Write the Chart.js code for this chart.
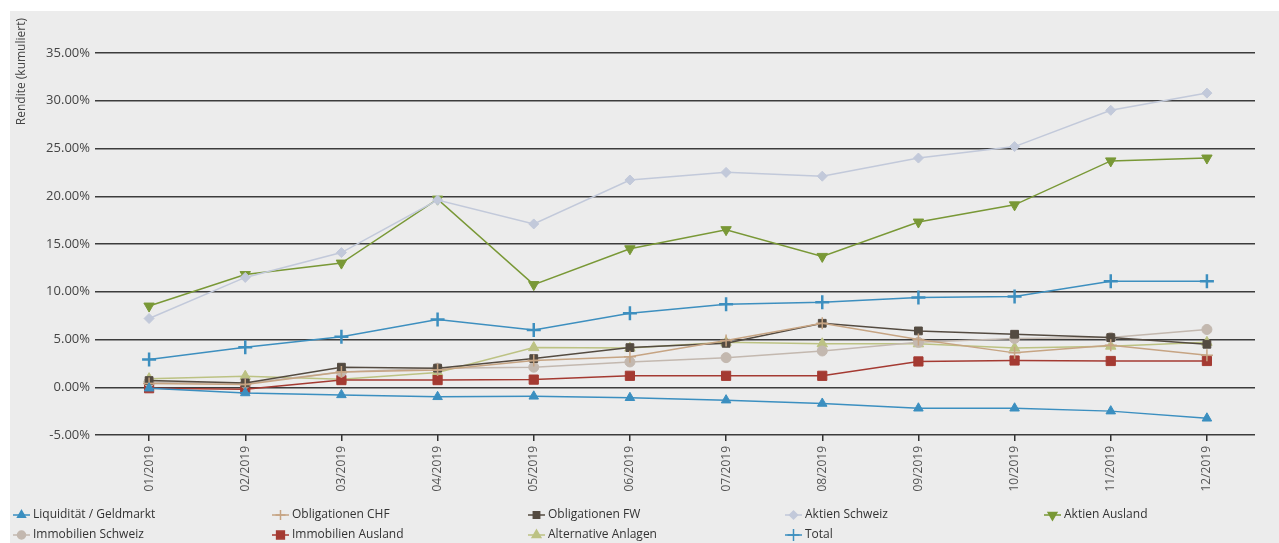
<!DOCTYPE html>
<html>
<head>
<meta charset="utf-8">
<style>
  html, body { margin: 0; padding: 0; background: #fff; }
  #chart { display: block; }
</style>
<script src="https://cdn.jsdelivr.net/npm/chart.js@4"></script>
</head>
<body>
<canvas id="chart" width="1279" height="543"></canvas>
<script>
// Werte (Rendite kumuliert, in %)
const months = ['01/2019', '02/2019', '03/2019', '04/2019', '05/2019', '06/2019',
  '07/2019', '08/2019', '09/2019', '10/2019', '11/2019', '12/2019'];
const yTicks = [-5, 0, 5, 10, 15, 20, 25, 30, 35];

const liquiditaet = [-0.1, -0.6, -0.8, -1.0, -0.95, -1.1, -1.35, -1.7, -2.2, -2.2, -2.5, -3.25];
const obligationenChf = [0.4, 0.3, 1.6, 1.8, 2.8, 3.2, 4.9, 6.7, 5.0, 3.6, 4.4, 3.35];
const obligationenFw = [0.7, 0.45, 2.1, 2.0, 3.0, 4.15, 4.6, 6.7, 5.9, 5.55, 5.2, 4.5];
const aktienSchweiz = [7.2, 11.5, 14.1, 19.6, 17.1, 21.7, 22.5, 22.1, 24.0, 25.2, 29.0, 30.8];
const aktienAusland = [8.5, 11.8, 13.0, 19.7, 10.75, 14.5, 16.5, 13.7, 17.3, 19.1, 23.7, 24.0];
const immobilienSchweiz = [0.55, 0.4, 1.6, 2.0, 2.1, 2.65, 3.1, 3.8, 4.7, 5.1, 5.2, 6.05];
const immobilienAusland = [-0.1, -0.2, 0.75, 0.75, 0.8, 1.2, 1.2, 1.2, 2.7, 2.8, 2.75, 2.75];
const alternativeAnlagen = [0.9, 1.15, 0.85, 1.55, 4.15, 4.1, 4.7, 4.55, 4.55, 4.1, 4.3, 4.7];
const total = [2.9, 4.2, 5.3, 7.1, 6.0, 7.75, 8.7, 8.9, 9.4, 9.5, 11.1, 11.1];

Chart.defaults.font.family = "'Open Sans', 'Noto Sans', sans-serif";
Chart.defaults.font.size = 12;

function series(label, data, color, style, extra) {
  return Object.assign({
    label: label,
    data: data,
    borderColor: color,
    backgroundColor: color,
    pointBackgroundColor: color,
    pointBorderColor: color,
    borderWidth: 1.5,
    pointStyle: style,
    pointRadius: 5,
    pointHoverRadius: 5,
    pointBorderWidth: 1,
    tension: 0,
  }, extra || {});
}

const datasets = [
  series('Liquidität / Geldmarkt', liquiditaet, '#3b8fc0', 'triangle', { pointRadius: 5.5 }),
  series('Obligationen CHF', obligationenChf, '#c6a483', 'cross', { pointRadius: 6, pointBorderWidth: 1.5 }),
  series('Obligationen FW', obligationenFw, '#544b41', 'rect', { pointRadius: 5.5 }),
  series('Aktien Schweiz', aktienSchweiz, '#c2c9da', 'rectRot', { pointRadius: 5 }),
  series('Aktien Ausland', aktienAusland, '#799836', 'triangle', { pointRotation: 180, pointRadius: 6 }),
  series('Immobilien Schweiz', immobilienSchweiz, '#c3b8af', 'circle'),
  series('Immobilien Ausland', immobilienAusland, '#a43a32', 'rect', { pointRadius: 6.5 }),
  series('Alternative Anlagen', alternativeAnlagen, '#bcc283', 'triangle', { pointRadius: 6 }),
  series('Total', total, '#3d8fbf', 'cross', { pointRadius: 7, pointBorderWidth: 2.5 }),
];

// Hintergrund, Achsentitel und Legende
const decor = {
  id: 'decor',
  beforeDraw(chart) {
    const ctx = chart.ctx;
    ctx.save();
    ctx.fillStyle = '#ececec';
    ctx.fillRect(10, 11, chart.width - 10, chart.height - 11);
    ctx.restore();
  },
  afterDraw(chart) {
    const ctx = chart.ctx;
    ctx.save();
    ctx.translate(22, 18);
    ctx.rotate(-Math.PI / 2);
    ctx.fillStyle = '#444';
    ctx.font = "12px 'Open Sans', sans-serif";
    ctx.textAlign = 'right';
    ctx.textBaseline = 'middle';
    ctx.fillText('Rendite (kumuliert)', 0, 0);
    ctx.restore();

    const colX = [13, 272, 528, 785, 1044];
    const rowY = [515, 535];
    chart.data.datasets.forEach((ds, i) => {
      const x = colX[i % 5];
      const y = rowY[Math.floor(i / 5)];
      ctx.save();
      ctx.strokeStyle = ds.borderColor;
      ctx.fillStyle = ds.borderColor;
      ctx.lineWidth = 1.5;
      ctx.beginPath();
      ctx.moveTo(x, y);
      ctx.lineTo(x + 17, y);
      ctx.stroke();
      Chart.helpers.drawPoint(ctx, {
        pointStyle: ds.pointStyle,
        rotation: ds.pointRotation || 0,
        radius: Math.max(4, ds.pointRadius - 1),
        borderWidth: ds.pointBorderWidth,
      }, x + 8.5, y);
      ctx.fillStyle = '#333';
      ctx.font = "12px 'Open Sans', sans-serif";
      ctx.textAlign = 'left';
      ctx.textBaseline = 'middle';
      ctx.fillText(ds.label, x + 20, y);
      ctx.restore();
    });
  }
};

new Chart(document.getElementById('chart'), {
  type: 'line',
  data: { labels: months, datasets: datasets },
  options: {
    responsive: false,
    animation: false,
    devicePixelRatio: 1,
    layout: { padding: { left: 0, top: 53, right: 24, bottom: 48 } },
    plugins: {
      legend: { display: false },
      tooltip: { enabled: false },
    },
    scales: {
      x: {
        offset: true,
        afterFit(scale) { scale.height = 60; },
        grid: { drawOnChartArea: false, drawTicks: true, tickLength: 6, color: '#333', lineWidth: 1.5 },
        border: { display: false },
        ticks: { minRotation: 90, maxRotation: 90, color: '#555', font: { size: 12 }, padding: 5 },
      },
      y: {
        min: -5,
        max: 35,
        afterFit(scale) { scale.width = 101; },
        afterBuildTicks(scale) { scale.ticks = yTicks.map(v => ({ value: v })); },
        grid: { color: '#3c3c3c', lineWidth: 1.5, tickLength: 6 },
        border: { display: false },
        ticks: {
          color: '#444',
          font: { size: 13 },
          padding: 5,
          callback: v => v.toFixed(2) + '%',
        },
      },
    },
  },
  plugins: [decor],
});
</script>
</body>
</html>
